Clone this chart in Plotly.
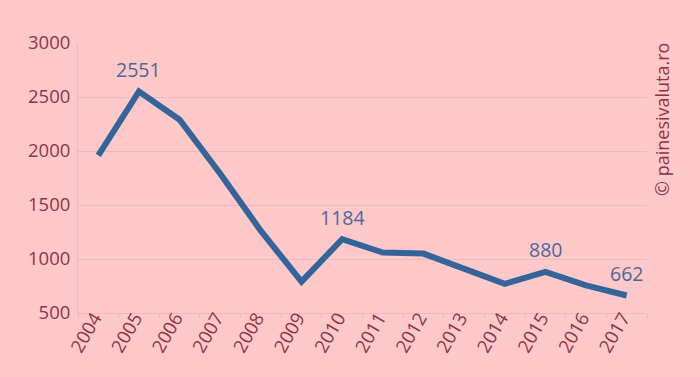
import plotly.graph_objects as go

years = ["2004", "2005", "2006", "2007", "2008", "2009", "2010", "2011",
         "2012", "2013", "2014", "2015", "2016", "2017"]
values = [1960, 2551, 2290, 1790, 1260, 790, 1184, 1060, 1050, 905, 770, 880, 755, 662]
labeled = {"2005": "2551", "2010": "1184", "2015": "880", "2017": "662"}

bg = "#ffc9c9"
tick_col = "#8e3446"
line_col = "#33659a"
ann_col = "#48689a"
grid_col = "#e5bcc2"

fig = go.Figure()
fig.add_trace(go.Scatter(
    x=list(range(len(years))), y=values, mode="lines",
    line=dict(color=line_col, width=6),
    hoverinfo="skip", showlegend=False,
))

for i, (y, v) in enumerate(zip(years, values)):
    if y in labeled:
        fig.add_annotation(x=i, y=v, text=labeled[y], showarrow=False,
                           yshift=22, font=dict(family="Open Sans", size=19.5, color=ann_col))

fig.add_annotation(xref="paper", yref="paper", x=1.026, y=0.718,
                   xanchor="center", yanchor="middle",
                   text="© painesivaluta.ro", textangle=-90, showarrow=False,
                   font=dict(family="Open Sans", size=18, color=tick_col))

fig.update_layout(
    width=700, height=377,
    margin=dict(l=78, r=53, t=43, b=64),
    paper_bgcolor=bg, plot_bgcolor=bg,
    font=dict(family="Open Sans", color=tick_col),
)
fig.update_xaxes(
    range=[-0.5, 13.5], tickvals=list(range(len(years))), ticktext=years,
    showgrid=False, showline=True, linecolor=grid_col, linewidth=1,
    ticks="", tickangle=-60, tickfont=dict(size=18.5, color=tick_col),
    ticklabelstandoff=-14, ticklabelshift=-4,
    automargin=False, zeroline=False,
    minor=dict(tickvals=[i - 0.5 for i in range(len(years) + 1)], ticks="outside",
               ticklen=5, tickcolor=grid_col, showgrid=False),
)
fig.update_yaxes(
    range=[500, 3000], tickvals=[500, 1000, 1500, 2000, 2500, 3000],
    showgrid=True, gridcolor=grid_col, gridwidth=1,
    showline=True, linecolor=grid_col, zeroline=False,
    tickfont=dict(size=18.5, color=tick_col), ticks="", ticklabelstandoff=3,
    automargin=False,
)

fig.write_html("out.html", config={"displayModeBar": False},
               post_script="document.body.style.margin='0';document.body.style.background='#ffc9c9';")
